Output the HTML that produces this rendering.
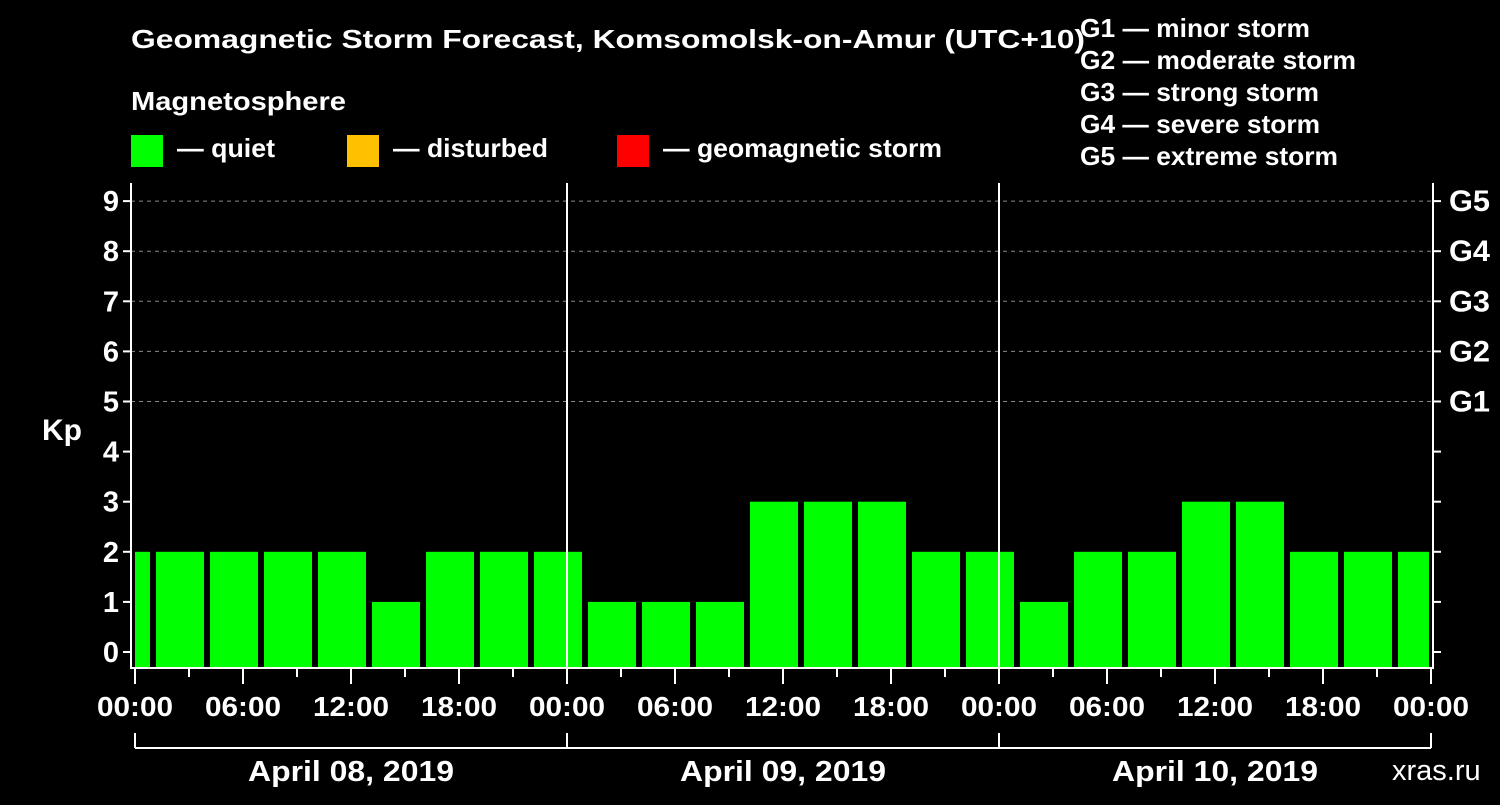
<!DOCTYPE html>
<html><head><meta charset="utf-8"><style>
body{margin:0;background:#000;width:1500px;height:800px;overflow:hidden}
text{font-family:"Liberation Sans",sans-serif;font-weight:bold;fill:#fff}
</style></head><body>
<svg id="chart" width="1500" height="800" xmlns="http://www.w3.org/2000/svg">
<text x="131" y="48" font-size="26" textLength="954" lengthAdjust="spacingAndGlyphs">Geomagnetic Storm Forecast, Komsomolsk-on-Amur (UTC+10)</text>
<text x="131" y="110" font-size="26" textLength="215" lengthAdjust="spacingAndGlyphs">Magnetosphere</text>
<g>
<rect x="131" y="135" width="32" height="32" fill="#00ff00"/>
<text x="177" y="157" font-size="26" textLength="98" lengthAdjust="spacingAndGlyphs">— quiet</text>
<rect x="347" y="135" width="32" height="32" fill="#ffc000"/>
<text x="393" y="157" font-size="26" textLength="155" lengthAdjust="spacingAndGlyphs">— disturbed</text>
<rect x="617" y="135" width="32" height="32" fill="#ff0000"/>
<text x="663" y="157" font-size="26" textLength="279" lengthAdjust="spacingAndGlyphs">— geomagnetic storm</text>
</g>
<g font-size="26">
<text x="1080" y="37" textLength="230" lengthAdjust="spacingAndGlyphs">G1 — minor storm</text>
<text x="1080" y="69" textLength="276" lengthAdjust="spacingAndGlyphs">G2 — moderate storm</text>
<text x="1080" y="101" textLength="239" lengthAdjust="spacingAndGlyphs">G3 — strong storm</text>
<text x="1080" y="133" textLength="240" lengthAdjust="spacingAndGlyphs">G4 — severe storm</text>
<text x="1080" y="165" textLength="258" lengthAdjust="spacingAndGlyphs">G5 — extreme storm</text>
</g>
<text x="42" y="440" font-size="30">Kp</text>
<text x="1392" y="780" font-size="29" style="font-weight:normal" fill="#bbb">xras.ru</text>
<g id="plot"></g>
</svg>
<script>
const kpValues=[2,2,2,2,2,1,2,2,2,1,1,1,3,3,3,2,2,1,2,2,3,3,2,2,2];
const yTicks=[0,1,2,3,4,5,6,7,8,9];
const gLabels=["G1","G2","G3","G4","G5"];
const gLevels=[5,6,7,8,9];
const dayLabels=["April 08, 2019","April 09, 2019","April 10, 2019"];
const xTickLabels=["00:00","06:00","12:00","18:00"];
const binStartHour=-2, binHours=3;

const NS="http://www.w3.org/2000/svg";
const g=document.getElementById('plot');
const L=131,R=1433,T=183,B=668,X0=135,PXH=18;
const xs=h=>X0+h*PXH;
const ys=v=>652-v*50.1;
function mk(t,a,txt){const e=document.createElementNS(NS,t);for(const k in a)e.setAttribute(k,a[k]);if(txt!=null)e.textContent=txt;g.appendChild(e);return e;}
gLevels.forEach((v,i)=>{
 const e=mk('line',{x1:L,x2:R,y1:ys(v),y2:ys(v),stroke:'#888','stroke-dasharray':'4,4','stroke-width':1});
 
 
 const t=mk('text',{x:1449,y:ys(v)+10,'font-size':30,textLength:41,lengthAdjust:'spacingAndGlyphs'},gLabels[i]);
 
 
});
kpValues.forEach((v,i)=>{
 let x1=xs(binStartHour+i*binHours)+3,x2=xs(binStartHour+(i+1)*binHours)-3;
 x1=Math.max(x1,L+4);x2=Math.min(x2,R-4);
 const col=v>=5?'#ff0000':(v>=4?'#ffc000':'#00ff00');
 const r=mk('rect',{x:x1,y:ys(v),width:x2-x1,height:B-ys(v),fill:col});
 
 
});
for(let d=1;d<3;d++){const e=mk('line',{x1:xs(24*d),x2:xs(24*d),y1:T,y2:B,stroke:'#fff','stroke-width':2});
 
 }
const f=mk('path',{d:`M${L},${T}V${B}H${R}V${T}`,fill:'none',stroke:'#fff','stroke-width':2});


yTicks.forEach(v=>{
 mk('line',{x1:L-8,x2:L,y1:ys(v),y2:ys(v),stroke:'#fff','stroke-width':2});
 mk('line',{x1:R,x2:R+8,y1:ys(v),y2:ys(v),stroke:'#fff','stroke-width':2});
 const t=mk('text',{x:L-12,y:ys(v)+10,'font-size':29,'text-anchor':'end'},String(v));
 
 
});
for(let h=0;h<=72;h+=3){
 const major=h%6===0;
 mk('line',{x1:xs(h),x2:xs(h),y1:B,y2:B+(major?16:9),stroke:'#fff','stroke-width':2});
 if(major){const t=mk('text',{x:xs(h),y:716,'font-size':28,'text-anchor':'middle',textLength:76,lengthAdjust:'spacingAndGlyphs'},xTickLabels[(h/6)%4]);
  
  }
}
mk('line',{x1:xs(0),x2:xs(72),y1:748,y2:748,stroke:'#fff','stroke-width':2});
for(let d=0;d<=3;d++)mk('line',{x1:xs(24*d),x2:xs(24*d),y1:733,y2:748,stroke:'#fff','stroke-width':2});
dayLabels.forEach((s,d)=>{const t=mk('text',{x:xs(24*d+12),y:781,'font-size':29,'text-anchor':'middle',textLength:206,lengthAdjust:'spacingAndGlyphs'},s);
 
 });
</script>
</body></html>
